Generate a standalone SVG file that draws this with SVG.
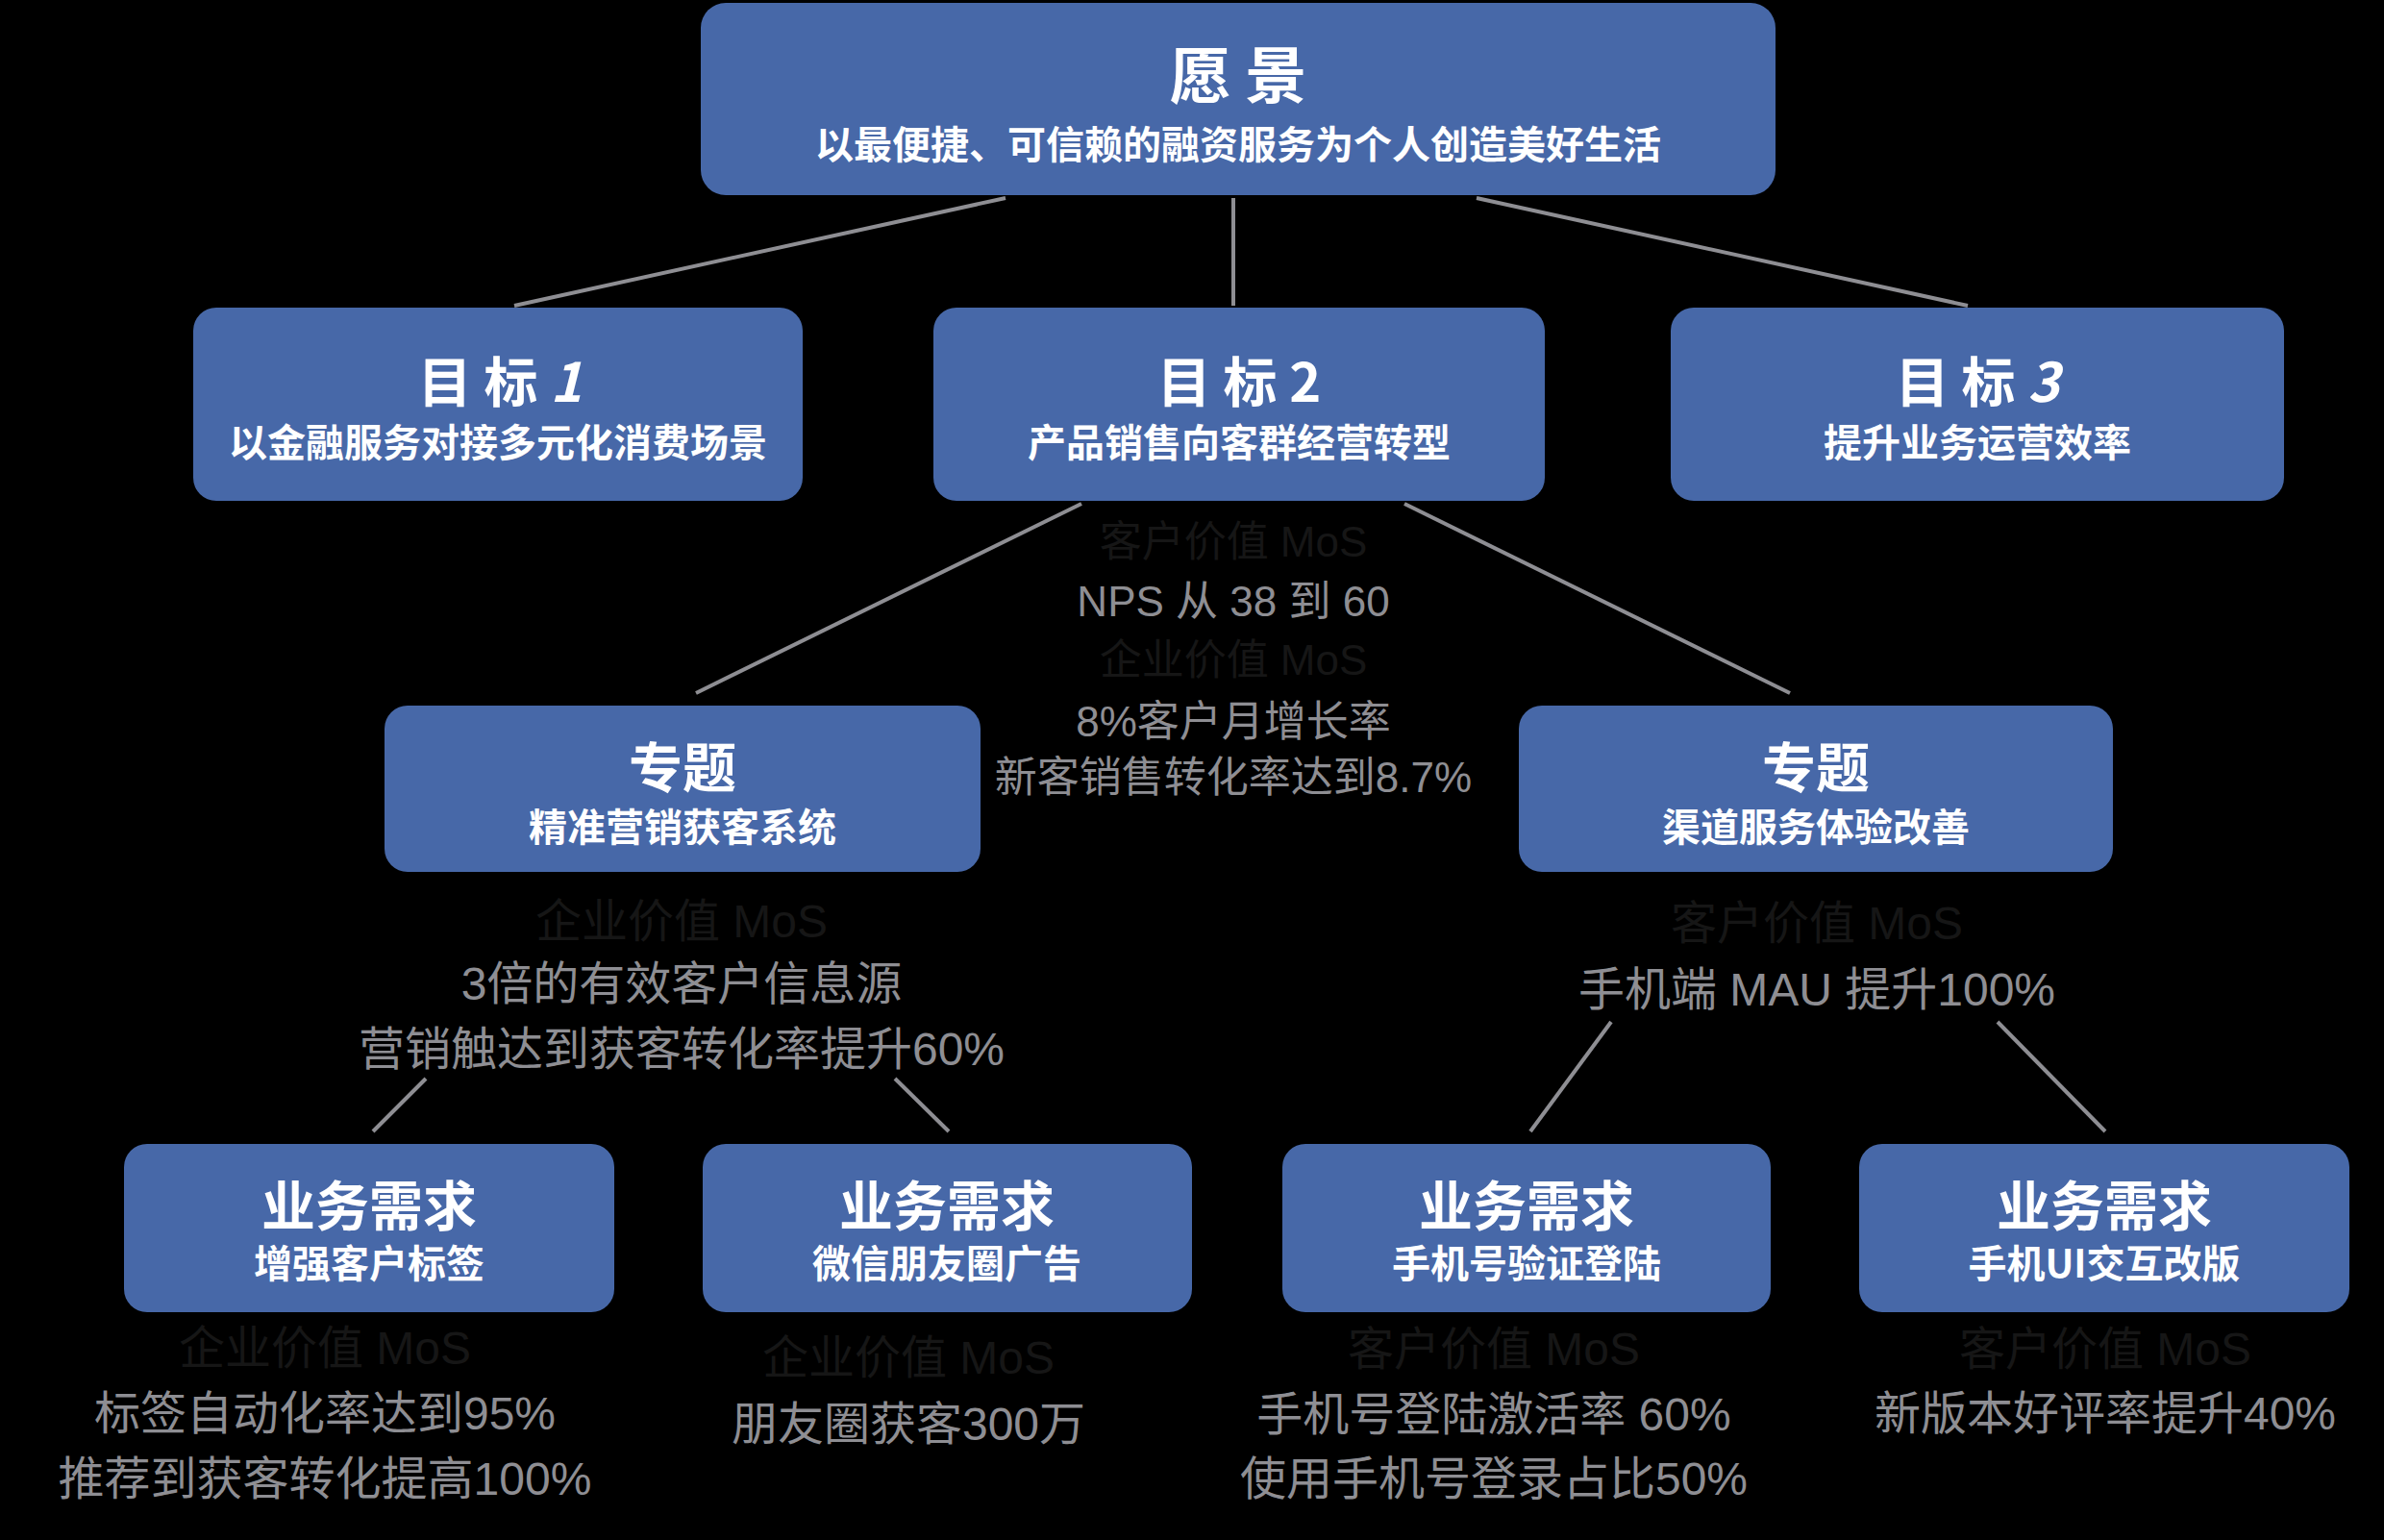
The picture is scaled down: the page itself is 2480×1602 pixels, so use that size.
<svg xmlns="http://www.w3.org/2000/svg" width="2480" height="1602" viewBox="0 0 2480 1602">
<style>
.box{fill:#4768a8}
.t{font-family:"Noto Sans CJK SC","Liberation Sans",sans-serif;font-weight:700;fill:#ffffff;text-anchor:middle}
.h1{font-size:64px}
.h2{font-size:56px}
.sub{font-size:40px}
.g{font-family:"Liberation Sans","Noto Sans CJK SC",sans-serif;fill:#8e8e93;text-anchor:middle}
.m{font-family:"Liberation Sans","Noto Sans CJK SC",sans-serif;fill:#161616;text-anchor:middle}
.s44{font-size:44px}
.s48{font-size:48px}
.ln{stroke:#8e8e93;stroke-width:4;fill:none}
</style>
<rect x="0" y="0" width="2480" height="1602" fill="#000000"/>
<g id="connectors">
<line class="ln" x1="1046" y1="206" x2="535" y2="318"/>
<line class="ln" x1="1283" y1="206" x2="1283" y2="318"/>
<line class="ln" x1="1536" y1="206" x2="2047" y2="318"/>
<line class="ln" x1="1125" y1="524" x2="724" y2="721"/>
<line class="ln" x1="1461" y1="524" x2="1862" y2="721"/>
<line class="ln" x1="443" y1="1122" x2="388" y2="1177"/>
<line class="ln" x1="931" y1="1122" x2="987" y2="1177"/>
<line class="ln" x1="1676" y1="1063" x2="1592" y2="1177"/>
<line class="ln" x1="2078" y1="1063" x2="2190" y2="1177"/>
</g>
<g id="vision">
<rect class="box" x="729" y="3" width="1118" height="200" rx="26"/>
<text class="t h1" x="1288" y="102">愿 景</text>
<text class="t sub" x="1288" y="165">以最便捷、可信赖的融资服务为个人创造美好生活</text>
</g>
<g id="goal1">
<rect class="box" x="201" y="320" width="634" height="201" rx="24"/>
<text class="t h2" x="520" y="418">目 标 <tspan font-style="italic">1</tspan></text>
<text class="t sub" x="518" y="475">以金融服务对接多元化消费场景</text>
</g>
<g id="goal2">
<rect class="box" x="971" y="320" width="636" height="201" rx="24"/>
<text class="t h2" x="1289" y="418">目 标 2</text>
<text class="t sub" x="1289" y="475">产品销售向客群经营转型</text>
</g>
<g id="goal3">
<rect class="box" x="1738" y="320" width="638" height="201" rx="24"/>
<text class="t h2" x="2057" y="418">目 标 <tspan font-style="italic">3</tspan></text>
<text class="t sub" x="2057" y="475">提升业务运营效率</text>
</g>
<g id="goal2-mos">
<text class="m s44" x="1283" y="579">客户价值 MoS</text>
<text class="g s44" x="1283" y="641">NPS 从 38 到 60</text>
<text class="m s44" x="1283" y="702">企业价值 MoS</text>
<text class="g s44" x="1283" y="766">8%客户月增长率</text>
<text class="g s44" x="1283" y="824">新客销售转化率达到8.7%</text>
</g>
<g id="topic1">
<rect class="box" x="400" y="734" width="620" height="173" rx="24"/>
<text class="t h2" x="710" y="819">专题</text>
<text class="t sub" x="710" y="875">精准营销获客系统</text>
</g>
<g id="topic1-mos">
<text class="m s48" x="709" y="975">企业价值 MoS</text>
<text class="g s48" x="709" y="1040">3倍的有效客户信息源</text>
<text class="g s48" x="709" y="1108">营销触达到获客转化率提升60%</text>
</g>
<g id="topic2">
<rect class="box" x="1580" y="734" width="618" height="173" rx="24"/>
<text class="t h2" x="1889" y="819">专题</text>
<text class="t sub" x="1889" y="875">渠道服务体验改善</text>
</g>
<g id="topic2-mos">
<text class="m s48" x="1890" y="977">客户价值 MoS</text>
<text class="g s48" x="1890" y="1046">手机端 MAU 提升100%</text>
</g>
<g id="req1">
<rect class="box" x="129" y="1190" width="510" height="175" rx="24"/>
<text class="t h2" x="384" y="1275">业务需求</text>
<text class="t sub" x="384" y="1329">增强客户标签</text>
<text class="m s48" x="338" y="1419">企业价值 MoS</text>
<text class="g s48" x="338" y="1487">标签自动化率达到95%</text>
<text class="g s48" x="338" y="1555">推荐到获客转化提高100%</text>
</g>
<g id="req2">
<rect class="box" x="731" y="1190" width="509" height="175" rx="24"/>
<text class="t h2" x="985" y="1275">业务需求</text>
<text class="t sub" x="985" y="1329">微信朋友圈广告</text>
<text class="m s48" x="945" y="1429">企业价值 MoS</text>
<text class="g s48" x="945" y="1498">朋友圈获客300万</text>
</g>
<g id="req3">
<rect class="box" x="1334" y="1190" width="508" height="175" rx="24"/>
<text class="t h2" x="1588" y="1275">业务需求</text>
<text class="t sub" x="1588" y="1329">手机号验证登陆</text>
<text class="m s48" x="1554" y="1420">客户价值 MoS</text>
<text class="g s48" x="1554" y="1488">手机号登陆激活率 60%</text>
<text class="g s48" x="1554" y="1555">使用手机号登录占比50%</text>
</g>
<g id="req4">
<rect class="box" x="1934" y="1190" width="510" height="175" rx="24"/>
<text class="t h2" x="2189" y="1275">业务需求</text>
<text class="t sub" x="2189" y="1329">手机UI交互改版</text>
<text class="m s48" x="2190" y="1420">客户价值 MoS</text>
<text class="g s48" x="2190" y="1487">新版本好评率提升40%</text>
</g>
</svg>
